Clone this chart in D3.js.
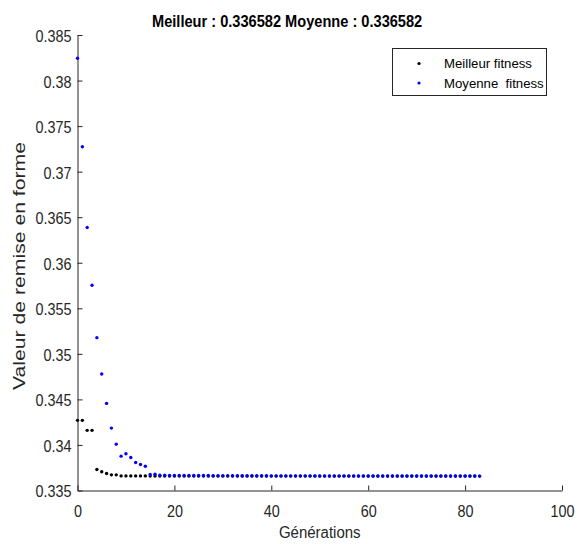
<!DOCTYPE html>
<html>
<head>
<meta charset="utf-8">
<script src="https://cdn.jsdelivr.net/npm/d3@7"></script>
<style>
  html, body { margin: 0; padding: 0; background: #fff; }
  svg { display: block; }
  text { font-family: "Liberation Sans", Arial, Helvetica, sans-serif; }
</style>
</head>
<body>
<svg id="chart" width="580" height="544"></svg>
<script>
// ---- data ----
const titleText = "Meilleur : 0.336582 Moyenne : 0.336582";
const xLabel = "Générations";
const yLabel = "Valeur de remise en forme";
const seriesNames = ["Meilleur fitness", "Moyenne  fitness"];

const xTicks = [0, 20, 40, 60, 80, 100];
const xTickLabels = ["0", "20", "40", "60", "80", "100"];
const yTicks = [0.335, 0.34, 0.345, 0.35, 0.355, 0.36, 0.365, 0.37, 0.375, 0.38, 0.385];
const yTickLabels = ["0.335", "0.34", "0.345", "0.35", "0.355", "0.36", "0.365", "0.37", "0.375", "0.38", "0.385"];

const bestFitness = [
  0.34270, 0.34270, 0.34160, 0.34160, 0.33731, 0.33705, 0.33687, 0.33672, 0.33672, 0.33660,
  0.33660, 0.33660, 0.33660, 0.33660, 0.33660, 0.336582, 0.336582, 0.336582, 0.336582, 0.336582,
  0.336582, 0.336582, 0.336582, 0.336582, 0.336582, 0.336582, 0.336582, 0.336582, 0.336582, 0.336582,
  0.336582, 0.336582, 0.336582, 0.336582, 0.336582, 0.336582, 0.336582, 0.336582, 0.336582, 0.336582,
  0.336582, 0.336582, 0.336582, 0.336582, 0.336582, 0.336582, 0.336582, 0.336582, 0.336582, 0.336582,
  0.336582, 0.336582, 0.336582, 0.336582, 0.336582, 0.336582, 0.336582, 0.336582, 0.336582, 0.336582,
  0.336582, 0.336582, 0.336582, 0.336582, 0.336582, 0.336582, 0.336582, 0.336582, 0.336582, 0.336582,
  0.336582, 0.336582, 0.336582, 0.336582, 0.336582, 0.336582, 0.336582, 0.336582, 0.336582, 0.336582,
  0.336582, 0.336582, 0.336582, 0.336582
];

const meanFitness = [
  0.38244, 0.37273, 0.36387, 0.35753, 0.35178, 0.34778, 0.34456, 0.34185, 0.34009, 0.33877,
  0.33903, 0.33863, 0.33808, 0.33786, 0.33767, 0.33675, 0.33679, 0.33667, 0.33667, 0.33666,
  0.33666, 0.33666, 0.33665, 0.33665, 0.33665, 0.33664, 0.33664, 0.33664, 0.33663, 0.33663,
  0.33663, 0.33663, 0.33663, 0.33662, 0.33662, 0.33662, 0.33662, 0.33662, 0.33662, 0.33662,
  0.33661, 0.33661, 0.33661, 0.33661, 0.33661, 0.33661, 0.33661, 0.33661, 0.33661, 0.33660,
  0.33660, 0.33660, 0.33660, 0.33660, 0.33660, 0.33660, 0.33660, 0.33660, 0.33660, 0.33660,
  0.33659, 0.33659, 0.33659, 0.33659, 0.33659, 0.33659, 0.33659, 0.33659, 0.33659, 0.33659,
  0.33659, 0.33659, 0.33659, 0.33659, 0.33659, 0.33659, 0.33659, 0.33659, 0.33659, 0.33659,
  0.33659, 0.33659, 0.33659, 0.336582
];

// ---- layout ----
const svg = d3.select("#chart");
const mLeft = 77.5, mRight = 562, mTop = 35, mBottom = 490.5;
const axisColor = "#262626";
const stretch = 1.18;

const x = d3.scaleLinear().domain([0, 100]).range([mLeft, mRight]);
const y = d3.scaleLinear().domain([0.335, 0.385]).range([mBottom, mTop]);

// axes (MATLAB style: ticks inside, box off)
const xAxis = d3.axisBottom(x).tickValues(xTicks)
  .tickFormat((d, i) => xTickLabels[i]).tickSizeInner(-5).tickSizeOuter(0).tickPadding(12);
const yAxis = d3.axisLeft(y).tickValues(yTicks)
  .tickFormat((d, i) => yTickLabels[i]).tickSizeInner(-5).tickSizeOuter(0).tickPadding(6);

const gx = svg.append("g").attr("transform", `translate(0,${mBottom})`).call(xAxis);
const gy = svg.append("g").attr("transform", `translate(${mLeft},0)`).call(yAxis);
[gx, gy].forEach(g => {
  g.select(".domain").attr("stroke", axisColor).attr("stroke-width", 1);
  g.selectAll(".tick line").attr("stroke", axisColor).attr("stroke-width", 1);
  g.selectAll(".tick text").attr("fill", axisColor).attr("font-size", "14.4px")
    .attr("font-family", '"Liberation Sans", Arial, sans-serif')
    .attr("transform", `scale(1,${stretch})`);
});
gy.selectAll(".tick text").attr("dy", "0.38em");
gx.selectAll(".tick text").attr("y", 26.2 / stretch).attr("dy", 0);

// data points
const idx = d3.range(bestFitness.length);
svg.append("g").selectAll("circle").data(idx).join("circle")
  .attr("cx", i => x(i)).attr("cy", i => y(bestFitness[i])).attr("r", 1.7).attr("fill", "#000");
svg.append("g").selectAll("circle").data(idx).join("circle")
  .attr("cx", i => x(i)).attr("cy", i => y(meanFitness[i])).attr("r", 1.7).attr("fill", "#0000ff");

// title
svg.append("text").attr("transform", `translate(152,26.7) scale(1,1.12)`)
  .attr("font-size", "14.6px").attr("font-weight", "bold").attr("fill", "#000")
  .text(titleText);

// x label
svg.append("text").attr("transform", `translate(${(mLeft + mRight) / 2},538) scale(1,1.08)`)
  .attr("text-anchor", "middle").attr("font-size", "15px").attr("fill", axisColor)
  .text(xLabel);

// y label
svg.append("text").attr("transform", `translate(25,266) rotate(-90)`)
  .attr("text-anchor", "middle").attr("font-size", "17px").attr("fill", axisColor)
  .attr("textLength", 248).attr("lengthAdjust", "spacingAndGlyphs")
  .text(yLabel);

// legend
const lg = svg.append("g");
lg.append("rect").attr("x", 392.5).attr("y", 48.5).attr("width", 154).attr("height", 47)
  .attr("fill", "#fff").attr("stroke", axisColor).attr("stroke-width", 1);
const legendColors = ["#000", "#0000ff"];
seriesNames.forEach((name, i) => {
  const cy = 63.5 + i * 19.5;
  lg.append("circle").attr("cx", 419).attr("cy", cy).attr("r", 1.6).attr("fill", legendColors[i]);
  lg.append("text").attr("x", 444).attr("y", cy).attr("dy", "0.36em")
    .attr("font-size", "13.2px").attr("fill", "#000")
    .style("white-space", "pre")
    .text(name);
});
</script>
</body>
</html>
